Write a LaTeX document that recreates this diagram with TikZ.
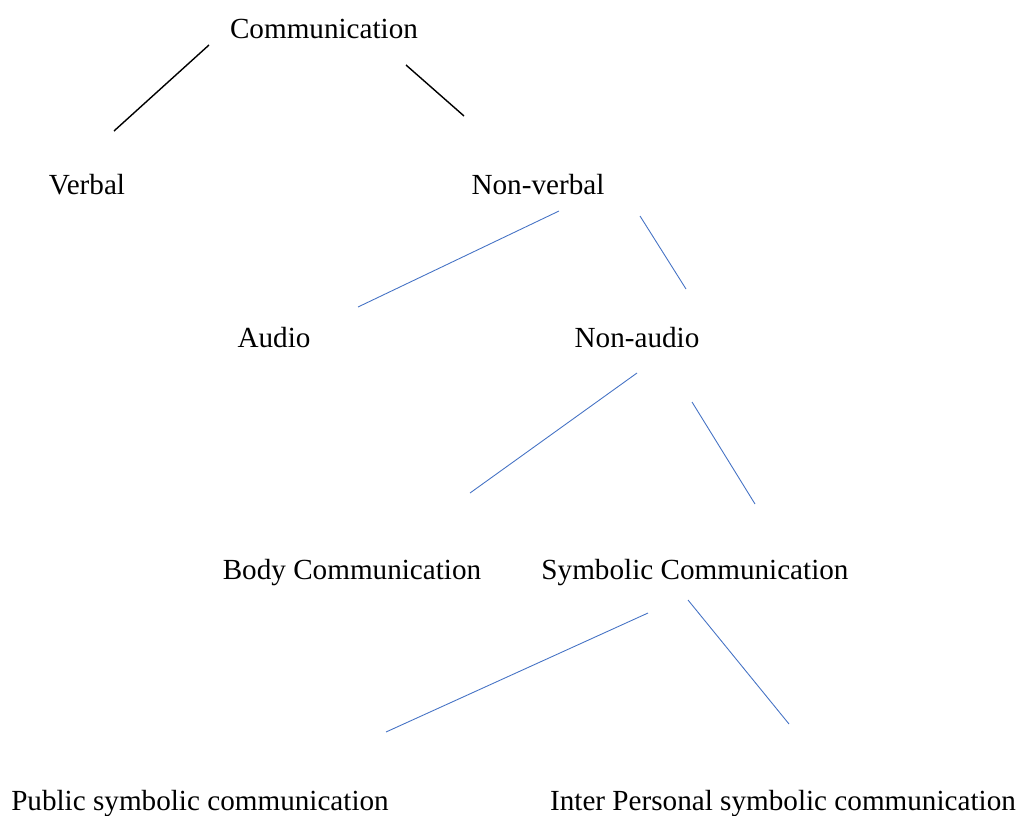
\documentclass[tikz,border=0pt]{standalone}
\usepackage{fontspec}
\setmainfont{Liberation Serif}
\usepackage{xcolor}
\usepackage{tikz}

\definecolor{linkblue}{HTML}{4472C4}
\tikzset{
	term/.style={anchor=base,inner sep=0pt,font=\fontsize{16.6}{19}\selectfont},
	toplink/.style={black,line width=0.8pt},
	sublink/.style={linkblue,line width=0.5pt}
}

\begin{document}
\begin{tikzpicture}[x=0.02cm,y=-0.02cm]
		\useasboundingbox (0,0) rectangle (1023,815);
		
		\node[term] (comm) at (324,38) {Communication};
		\node[term] (verbal) at (87,194) {Verbal};
		\node[term] (nonverbal) at (538,194) {Non-verbal};
		\node[term] (audio) at (274,347) {Audio};
		\node[term] (nonaudio) at (637,347) {Non-audio};
		\node[term] (body) at (352,579) {Body Communication};
		\node[term] (symbolic) at (695,579) {Symbolic Communication};
		\node[term] (public) at (200,810) {Public symbolic communication};
		\node[term] (inter) at (783,810) {Inter Personal symbolic communication};
		
		% free ends of the links
		\coordinate (c1a) at (209,45);   \coordinate (c1b) at (114,131);
		\coordinate (c2a) at (406,65);   \coordinate (c2b) at (464,116);
		\coordinate (n1a) at (559,211);  \coordinate (n1b) at (358,307);
		\coordinate (n2a) at (640,216);  \coordinate (n2b) at (686,289);
		\coordinate (a1a) at (637,373);  \coordinate (a1b) at (470,493);
		\coordinate (a2a) at (692,402);  \coordinate (a2b) at (755,504);
		\coordinate (s1a) at (648,613);  \coordinate (s1b) at (386,732);
		\coordinate (s2a) at (688,600);  \coordinate (s2b) at (789,724);
		
		\draw[toplink] (c1a) -- (c1b);
		\draw[toplink] (c2a) -- (c2b);
		\foreach \i in {n1,n2,a1,a2,s1,s2}{
			\draw[sublink] (\i a) -- (\i b);
		}
	\end{tikzpicture}
\end{document}
